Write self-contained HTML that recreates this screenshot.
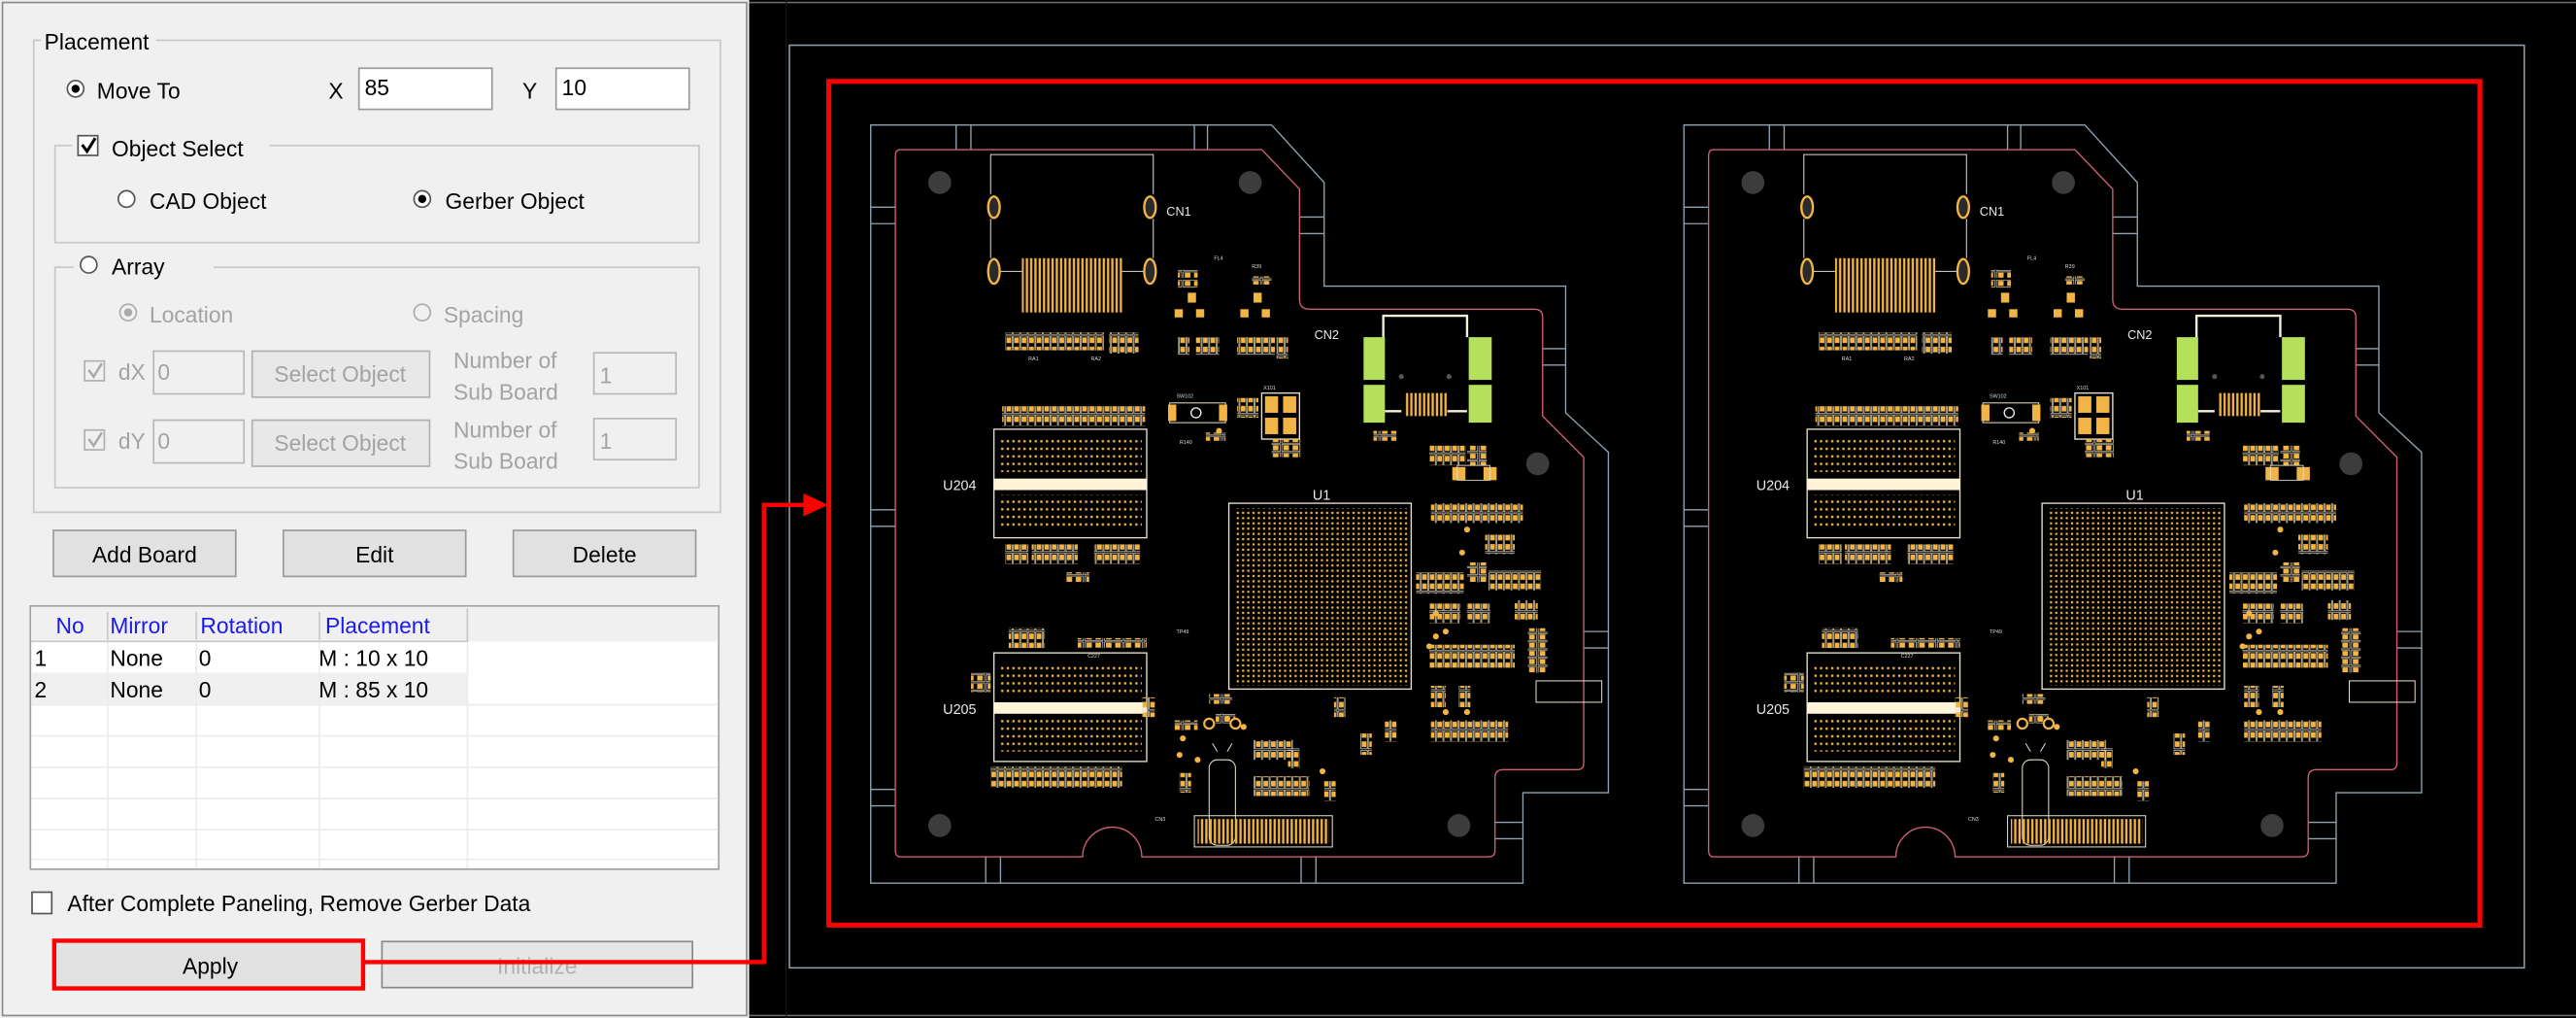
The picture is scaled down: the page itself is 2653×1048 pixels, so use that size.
<!DOCTYPE html>
<html><head><meta charset="utf-8"><style>
html,body{margin:0;padding:0;background:#fff;}
svg{display:block;}
text{font-family:"Liberation Sans",sans-serif;}
</style></head><body>
<svg width="2653" height="1048" viewBox="0 0 1568 619" preserveAspectRatio="none" xmlns="http://www.w3.org/2000/svg">
<defs>
<pattern id="dots" width="3.4" height="4.6" patternUnits="userSpaceOnUse"><rect x="0.8" y="0.8" width="1.4" height="1.4" fill="#f2b445"/></pattern>
<pattern id="bga" width="3.2" height="3.2" patternUnits="userSpaceOnUse"><rect x="0.8" y="0.8" width="1.3" height="1.3" fill="#f2b445"/></pattern>
<pattern id="stripes" width="2.6" height="40" patternUnits="userSpaceOnUse"><rect x="0.4" y="0" width="1.4" height="40" fill="#f2b445"/></pattern>
<pattern id="pads" width="4.6" height="12" patternUnits="userSpaceOnUse"><rect x="0.3" y="0.3" width="4" height="11" fill="none" stroke="#e8e0c8" stroke-width="0.4"/><rect x="0.9" y="1.2" width="2.8" height="3.4" fill="#f2b445"/><rect x="0.9" y="6.8" width="2.8" height="3.4" fill="#f2b445"/></pattern>
<pattern id="padsh" width="12" height="5" patternUnits="userSpaceOnUse"><rect x="0.3" y="0.3" width="11" height="4.2" fill="none" stroke="#e8e0c8" stroke-width="0.4"/><rect x="1.2" y="0.8" width="3.4" height="3" fill="#f2b445"/><rect x="6.8" y="0.8" width="3.4" height="3" fill="#f2b445"/></pattern>
<g id="board">
<path d="M530,76 H774 L806,111 V174 H953 V251 L979,275 V482 H927 V537 H530 Z" fill="none" stroke="#8fa3b0" stroke-width="0.8"/>
<path d="M582,76V91M591,76V91M727,76V91M735,76V91M530,126H545M530,136H545M530,310H545M530,320H545M530,480H545M530,490H545M600,521V537M609,521V537M792,521V537M801,521V537M927,510H910M927,500H910M964,384H979M964,394H979M791,132H806M791,142H806M939,212H953M939,222H953" stroke="#8fa3b0" stroke-width="0.8"/>
<path d="M548,91 H768 L791,115 V182 Q791,188 797,188 H934 Q939,188 939,193 V253 L964,278 V464 Q964,468 960,468 H915 Q910,468 910,473 V517 Q910,521 906,521 H695 A18,18 0 0 0 659,521 H548 Q545,521 545,517 V95 Q545,91 548,91 Z" fill="none" stroke="#d06070" stroke-width="0.8"/>
<g fill="#3c3c3c"><circle cx="572" cy="111" r="7"/><circle cx="761" cy="111" r="7"/><circle cx="936" cy="282" r="7"/><circle cx="572" cy="502" r="7"/><circle cx="888" cy="502" r="7"/></g>
<path d="M603,118 V94 H702 V118 M603,133 V157 M702,133 V157 M609,165 H622 M683,165 H696" fill="none" stroke="#ddd" stroke-width="0.6"/>
<g fill="#2a2a2a" stroke="#f2b445" stroke-width="1.4"><ellipse cx="605" cy="126" rx="3.5" ry="6.5"/><ellipse cx="700" cy="126" rx="3.5" ry="6.5"/><ellipse cx="605" cy="165" rx="3.5" ry="7.5"/><ellipse cx="700" cy="165" rx="3.5" ry="7.5"/></g>
<rect x="622" y="157" width="61" height="33" fill="url(#stripes)"/>
<rect x="612" y="202" width="60" height="11" fill="url(#pads)"/><rect x="675" y="202" width="18" height="13" fill="url(#pads)"/>
<rect x="610" y="247" width="87" height="12" fill="url(#pads)"/>
<rect x="605" y="261" width="93" height="66" fill="#000" stroke="#e8e0c8" stroke-width="0.8"/>
<rect x="605" y="291" width="93" height="7" fill="#fff3d8"/>
<rect x="609" y="267" width="86" height="20" fill="url(#dots)"/><rect x="609" y="301" width="86" height="20" fill="url(#dots)"/>
<rect x="612" y="331" width="14" height="12" fill="url(#pads)"/><rect x="628" y="331" width="28" height="12" fill="url(#pads)"/><rect x="666" y="331" width="28" height="12" fill="url(#pads)"/>
<rect x="649" y="348" width="14" height="6" fill="url(#padsh)"/>
<rect x="614" y="382" width="22" height="12" fill="url(#pads)"/><rect x="656" y="388" width="42" height="6" fill="url(#padsh)"/>
<rect x="605" y="397" width="93" height="66" fill="#000" stroke="#e8e0c8" stroke-width="0.8"/>
<rect x="605" y="427" width="93" height="7" fill="#fff3d8"/>
<rect x="609" y="404" width="86" height="20" fill="url(#dots)"/><rect x="609" y="437" width="86" height="20" fill="url(#dots)"/>
<rect x="591" y="409" width="12" height="12" fill="url(#padsh)"/>
<rect x="603" y="466" width="80" height="13" fill="url(#pads)"/>
<rect x="717" y="164" width="12" height="5" fill="url(#padsh)"/><rect x="717" y="170" width="12" height="5" fill="url(#padsh)"/><rect x="762" y="168" width="12" height="5" fill="url(#padsh)"/>
<g fill="#f2b445"><rect x="723" y="178" width="5" height="6"/><rect x="715" y="188" width="5" height="5"/><rect x="728" y="188" width="5" height="5"/><rect x="763" y="178" width="5" height="6"/><rect x="755" y="188" width="5" height="5"/><rect x="768" y="188" width="5" height="5"/></g>
<rect x="717" y="205" width="7" height="11" fill="url(#pads)"/><rect x="728" y="205" width="14" height="11" fill="url(#pads)"/><rect x="753" y="205" width="23" height="11" fill="url(#pads)"/><rect x="777" y="205" width="7" height="13" fill="url(#pads)"/>
<rect x="712" y="245" width="34" height="12" fill="#000" stroke="#e8e0c8" stroke-width="0.6"/><rect x="711" y="246" width="5" height="10" fill="#f2b445"/><rect x="742" y="246" width="5" height="10" fill="#f2b445"/><circle cx="728" cy="251" r="3" fill="none" stroke="#eee" stroke-width="0.8"/>
<rect x="734" y="263" width="12" height="5" fill="url(#padsh)"/>
<rect x="753" y="242" width="13" height="12" fill="url(#pads)"/>
<rect x="768" y="239" width="23" height="28" fill="#000" stroke="#e8e0c8" stroke-width="0.8"/><g fill="#f2b445"><rect x="770" y="241" width="8" height="10"/><rect x="781" y="241" width="8" height="10"/><rect x="770" y="254" width="8" height="10"/><rect x="781" y="254" width="8" height="10"/></g>
<rect x="774" y="267" width="18" height="11" fill="url(#padsh)"/>
<rect x="830" y="205" width="13" height="26" fill="#b4e05a"/><rect x="830" y="234" width="13" height="23" fill="#b4e05a"/><rect x="894" y="205" width="14" height="26" fill="#b4e05a"/><rect x="894" y="234" width="14" height="23" fill="#b4e05a"/>
<path d="M842,205 V192 H893 V205 M843,250 H853 M881,250 H893" fill="none" stroke="#f5f0d8" stroke-width="1.4"/>
<rect x="855" y="239" width="26" height="14" fill="url(#stripes)"/>
<circle cx="853" cy="229" r="1.5" fill="#555"/><circle cx="882" cy="229" r="1.5" fill="#555"/>
<rect x="836" y="262" width="14" height="6" fill="url(#padsh)"/>
<rect x="870" y="271" width="22" height="12" fill="url(#pads)"/><rect x="893" y="271" width="12" height="12" fill="url(#padsh)"/>
<rect x="884" y="284" width="8" height="8" fill="#f2b445"/><rect x="903" y="284" width="8" height="8" fill="#f2b445"/><rect x="887" y="283" width="20" height="9" fill="none" stroke="#e8e0c8" stroke-width="0.5"/>
<rect x="748" y="306" width="111" height="113" fill="#000" stroke="#e8e0c8" stroke-width="0.8"/>
<rect x="751" y="309" width="106" height="108" fill="url(#bga)"/>
<rect x="871" y="306" width="56" height="12" fill="url(#pads)"/>
<rect x="904" y="325" width="18" height="12" fill="url(#pads)"/>
<rect x="862" y="348" width="29" height="13" fill="url(#pads)"/><rect x="893" y="342" width="12" height="12" fill="url(#padsh)"/><rect x="906" y="347" width="32" height="12" fill="url(#pads)"/>
<rect x="870" y="367" width="19" height="12" fill="url(#pads)"/><rect x="893" y="367" width="14" height="12" fill="url(#pads)"/><rect x="922" y="365" width="14" height="12" fill="url(#pads)"/>
<rect x="870" y="392" width="52" height="14" fill="url(#pads)"/>
<rect x="930" y="382" width="12" height="27" fill="url(#padsh)"/>
<rect x="935" y="414" width="40" height="13" fill="none" stroke="#e8e0c8" stroke-width="0.6"/>
<rect x="871" y="438" width="47" height="13" fill="url(#pads)"/>
<rect x="871" y="417" width="9" height="13" fill="url(#pads)"/><rect x="888" y="417" width="7" height="13" fill="url(#pads)"/>
<rect x="763" y="450" width="24" height="12" fill="url(#pads)"/><rect x="763" y="472" width="34" height="12" fill="url(#pads)"/>
<rect x="736" y="422" width="14" height="6" fill="url(#padsh)"/><rect x="740" y="434" width="12" height="6" fill="url(#padsh)"/>
<rect x="695" y="424" width="8" height="12" fill="url(#pads)"/><rect x="715" y="438" width="14" height="6" fill="url(#padsh)"/>
<rect x="718" y="470" width="7" height="12" fill="url(#pads)"/><rect x="784" y="455" width="7" height="12" fill="url(#pads)"/><rect x="828" y="446" width="7" height="13" fill="url(#pads)"/><rect x="843" y="438" width="7" height="13" fill="url(#pads)"/><rect x="812" y="424" width="7" height="12" fill="url(#pads)"/><rect x="806" y="475" width="7" height="12" fill="url(#pads)"/>
<g fill="#f2b445"><circle cx="742" cy="262" r="1.8"/><circle cx="893" cy="322" r="1.8"/><circle cx="890" cy="336" r="1.8"/><circle cx="874" cy="373" r="1.8"/><circle cx="874" cy="387" r="1.8"/><circle cx="880" cy="384" r="1.8"/><circle cx="870" cy="393" r="1.8"/><circle cx="880" cy="433" r="1.8"/><circle cx="893" cy="433" r="1.8"/><circle cx="747" cy="437" r="1.8"/><circle cx="757" cy="442" r="1.8"/><circle cx="720" cy="449" r="1.8"/><circle cx="718" cy="459" r="1.8"/><circle cx="729" cy="462" r="1.8"/><circle cx="805" cy="469" r="1.8"/></g>
<circle cx="736" cy="440" r="3" fill="#000" stroke="#f2b445" stroke-width="1.3"/><circle cx="752" cy="440" r="3" fill="#000" stroke="#f2b445" stroke-width="1.3"/>
<path d="M738,452 L741,457 M750,452 L747,457" stroke="#e8e0c8" stroke-width="0.6"/>
<rect x="736" y="462" width="16" height="52" rx="5" fill="none" stroke="#e8e0c8" stroke-width="0.6"/>
<rect x="727" y="496" width="84" height="19" fill="none" stroke="#e8e0c8" stroke-width="0.6"/>
<rect x="729" y="498" width="80" height="15" fill="url(#stripes)"/>
</g>
</defs>
<!-- left panel -->
<rect x="0" y="0" width="456" height="619" fill="#f0f0f0"/>
<rect x="1.5" y="1.5" width="453" height="616" fill="none" stroke="#8a8a8a" stroke-width="1"/>
<g font-size="13.5" fill="#000">
<rect x="20.5" y="24.5" width="418" height="287" fill="none" stroke="#c8c8c8"/>
<rect x="25" y="16" width="70" height="14" fill="#f0f0f0"/>
<text x="27" y="30">Placement</text>
<circle cx="46" cy="54" r="5" fill="#fff" stroke="#555"/><circle cx="46" cy="54" r="2.5" fill="#000"/>
<text x="59" y="60">Move To</text>
<text x="200" y="60">X</text>
<rect x="218.5" y="41.5" width="81" height="25" fill="#fff" stroke="#9a9a9a"/><text x="222" y="58">85</text>
<text x="318" y="60">Y</text>
<rect x="338.5" y="41.5" width="81" height="25" fill="#fff" stroke="#9a9a9a"/><text x="342" y="58">10</text>
<rect x="33.5" y="88.5" width="392" height="59" fill="none" stroke="#c8c8c8"/>
<rect x="44" y="80" width="120" height="16" fill="#f0f0f0"/>
<rect x="47.5" y="82.5" width="12" height="12" fill="#fff" stroke="#555"/>
<path d="M50,88 L53,92 L58,84" fill="none" stroke="#000" stroke-width="1.8"/>
<text x="68" y="95">Object Select</text>
<circle cx="77" cy="121" r="5" fill="#fff" stroke="#555"/><text x="91" y="127">CAD Object</text>
<circle cx="257" cy="121" r="5" fill="#fff" stroke="#555"/><circle cx="257" cy="121" r="2.5" fill="#000"/><text x="271" y="127">Gerber Object</text>
<rect x="33.5" y="162.5" width="392" height="134" fill="none" stroke="#c8c8c8"/>
<rect x="45" y="154" width="85" height="16" fill="#f0f0f0"/>
<circle cx="54" cy="161" r="5" fill="#fff" stroke="#555"/><text x="68" y="167">Array</text>
</g>
<g font-size="13.5" fill="#a3a3a3">
<circle cx="78" cy="190" r="5" fill="#f0f0f0" stroke="#aaa"/><circle cx="78" cy="190" r="2.5" fill="#aaa"/><text x="91" y="196">Location</text>
<circle cx="257" cy="190" r="5" fill="#f0f0f0" stroke="#aaa"/><text x="270" y="196">Spacing</text>
<rect x="51.5" y="219.5" width="12" height="12" fill="#f0f0f0" stroke="#b0b0b0"/><path d="M54,225 L57,229 L62,221" fill="none" stroke="#aaa" stroke-width="1.5"/>
<text x="72" y="231">dX</text>
<rect x="93.5" y="213.5" width="55" height="26" fill="#f0f0f0" stroke="#b8b8b8"/><text x="96" y="231">0</text>
<rect x="153.5" y="213.5" width="108" height="28" fill="#e8e8e8" stroke="#b0b0b0"/><text x="207" y="232" text-anchor="middle">Select Object</text>
<text x="276" y="224">Number of</text><text x="276" y="243">Sub Board</text>
<rect x="361.5" y="214.5" width="50" height="25" fill="#f0f0f0" stroke="#b8b8b8"/><text x="365" y="233">1</text>
<rect x="51.5" y="261.5" width="12" height="12" fill="#f0f0f0" stroke="#b0b0b0"/><path d="M54,267 L57,271 L62,263" fill="none" stroke="#aaa" stroke-width="1.5"/>
<text x="72" y="273">dY</text>
<rect x="93.5" y="255.5" width="55" height="26" fill="#f0f0f0" stroke="#b8b8b8"/><text x="96" y="273">0</text>
<rect x="153.5" y="255.5" width="108" height="28" fill="#e8e8e8" stroke="#b0b0b0"/><text x="207" y="274" text-anchor="middle">Select Object</text>
<text x="276" y="266">Number of</text><text x="276" y="285">Sub Board</text>
<rect x="361.5" y="254.5" width="50" height="25" fill="#f0f0f0" stroke="#b8b8b8"/><text x="365" y="273">1</text>
</g>
<g font-size="13.5" fill="#000">
<rect x="32.5" y="322.5" width="111" height="28" fill="#e1e1e1" stroke="#9a9a9a"/><text x="88" y="342" text-anchor="middle">Add Board</text>
<rect x="172.5" y="322.5" width="111" height="28" fill="#e1e1e1" stroke="#9a9a9a"/><text x="228" y="342" text-anchor="middle">Edit</text>
<rect x="312.5" y="322.5" width="111" height="28" fill="#e1e1e1" stroke="#9a9a9a"/><text x="368" y="342" text-anchor="middle">Delete</text>
<rect x="18.5" y="368.5" width="419" height="160" fill="#fff" stroke="#a0a0a0"/>
<rect x="19" y="369" width="418" height="21" fill="#f0f0f0"/>
<rect x="19" y="409" width="265" height="19" fill="#f0f0f0"/>
<path d="M19,428.5H437M19,447.5H437M19,466.5H437M19,485.5H437M19,504.5H437M19,522.5H437M65.5,390V528M119.5,390V528M194.5,390V528M284.5,390V528" stroke="#ececec"/>
<path d="M65.5,372V389M119.5,372V389M194.5,372V389M284.5,370V390M19,390H285" stroke="#c8c8c8"/>
<g fill="#1a1af0"><text x="34" y="385">No</text><text x="67" y="385">Mirror</text><text x="122" y="385">Rotation</text><text x="198" y="385">Placement</text></g>
<text x="21" y="405">1</text><text x="67" y="405">None</text><text x="121" y="405">0</text><text x="194" y="405">M : 10 x 10</text>
<text x="21" y="424">2</text><text x="67" y="424">None</text><text x="121" y="424">0</text><text x="194" y="424">M : 85 x 10</text>
<rect x="19.5" y="542.5" width="12" height="13" fill="#fff" stroke="#555"/>
<text x="41" y="554">After Complete Paneling, Remove Gerber Data</text>
<rect x="33.5" y="572.5" width="188" height="28" fill="#e1e1e1" stroke="#9a9a9a"/><text x="128" y="592" text-anchor="middle">Apply</text>
<rect x="232.5" y="572.5" width="189" height="28" fill="#e6e6e6" stroke="#8a8a8a"/><text x="327" y="592" text-anchor="middle" fill="#b0b0b0">Initialize</text>
</g>
<!-- viewport -->
<rect x="456" y="0" width="1112" height="619" fill="#000"/>
<path d="M456,1.5H1568M456,617.5H1568" stroke="#6a6a6a" stroke-width="1"/>
<path d="M478.5,0V619" stroke="#3a0a0a" stroke-width="0.7"/>
<rect x="480.5" y="27.5" width="1056" height="561" fill="none" stroke="#8fa3b0" stroke-width="0.9"/>
<use href="#board"/>
<use href="#board" transform="translate(495,0)"/>
<g fill="#e8e8e8" font-size="7.5">
<text x="710" y="131">CN1</text><text x="1205" y="131">CN1</text>
<text x="800" y="206">CN2</text><text x="1295" y="206">CN2</text>
<text x="574" y="298" font-size="8.5">U204</text><text x="1069" y="298" font-size="8.5">U204</text>
<text x="574" y="434" font-size="8.5">U205</text><text x="1069" y="434" font-size="8.5">U205</text>
<text x="799" y="304" font-size="8.5">U1</text><text x="1294" y="304" font-size="8.5">U1</text>
</g>
<g fill="#ddd" font-size="3.2">
<text x="739" y="158">FL4</text><text x="1234" y="158">FL4</text>
<text x="762" y="163">R39</text><text x="1257" y="163">R39</text>
<text x="716" y="242">SW102</text><text x="1211" y="242">SW102</text>
<text x="769" y="237">X101</text><text x="1264" y="237">X101</text>
<text x="718" y="270">R140</text><text x="1213" y="270">R140</text>
<text x="664" y="219">RA2</text><text x="1159" y="219">RA2</text>
<text x="626" y="219">RA1</text><text x="1121" y="219">RA1</text>
<text x="662" y="400">C227</text><text x="1157" y="400">C227</text>
<text x="716" y="385">TP49</text><text x="1211" y="385">TP49</text>
<text x="703" y="499">CN3</text><text x="1198" y="499">CN3</text>
</g>
<!-- red highlight -->
<rect x="504.5" y="49.5" width="1005" height="513" fill="none" stroke="#ff0000" stroke-width="3"/>
<rect x="33" y="572" width="188" height="29" fill="none" stroke="#ff0000" stroke-width="2.6"/>
<polyline points="221,585 465,585 465,307 491,307" fill="none" stroke="#ff0000" stroke-width="2.6"/>
<polygon points="489,300 504,307 489,314" fill="#ff0000"/>
</svg>
</body></html>
